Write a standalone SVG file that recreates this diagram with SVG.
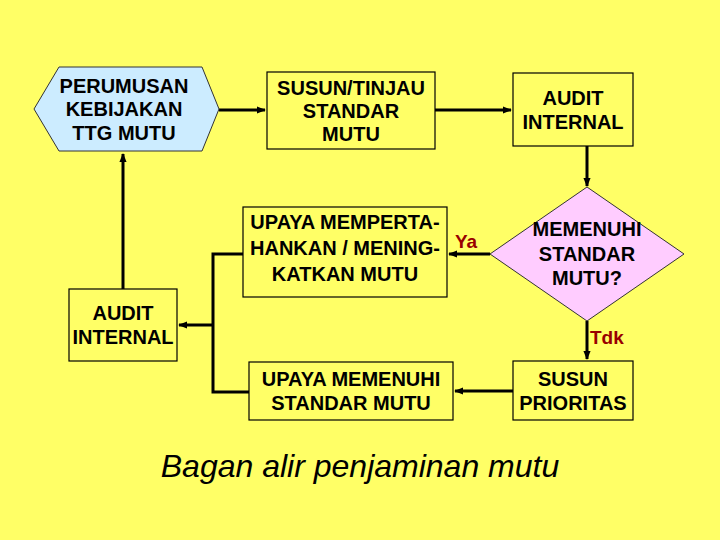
<svg xmlns="http://www.w3.org/2000/svg" width="720" height="540" viewBox="0 0 720 540">
<defs>
<marker id="ah" viewBox="0 0 10 10" refX="9" refY="5" markerWidth="3" markerHeight="3" orient="auto" markerUnits="strokeWidth">
<path d="M0,1 L10,5 L0,9 z" fill="#000"/>
</marker>
<style>
.box{fill:#FFFF66;stroke:#000;stroke-width:1.2}
.t{font-family:"Liberation Sans",Arial,sans-serif;font-weight:bold;font-size:20px;fill:#000;text-anchor:middle;dominant-baseline:central}
.c{fill:none;stroke:#000;stroke-width:3}
.lbl{font-family:"Liberation Sans",Arial,sans-serif;font-weight:bold;font-size:19px;fill:#990000}
</style>
</defs>
<rect x="0" y="0" width="720" height="540" fill="#FFFF66"/>
<g id="connectors">
<line class="c" x1="219" y1="110" x2="265" y2="110" marker-end="url(#ah)"/>
<line class="c" x1="435" y1="110" x2="511" y2="110" marker-end="url(#ah)"/>
<line class="c" x1="587" y1="146" x2="587" y2="186" marker-end="url(#ah)"/>
<line class="c" x1="490" y1="254" x2="449" y2="254" marker-end="url(#ah)"/>
<line class="c" x1="587" y1="321" x2="587" y2="359" marker-end="url(#ah)"/>
<line class="c" x1="513" y1="391" x2="455" y2="391" marker-end="url(#ah)"/>
<polyline class="c" points="243,254 213,254 213,392 249,392"/>
<line class="c" x1="213" y1="325" x2="179" y2="325" marker-end="url(#ah)"/>
<line class="c" x1="123" y1="289" x2="123" y2="154" marker-end="url(#ah)"/>
<text class="lbl" x="455" y="248">Ya</text>
<text class="lbl" x="590" y="344">Tdk</text>
</g>
<g id="perumusan">
<polygon points="34,109 59,67 202,67 219,109 202,151 59,151" fill="#CCECFF" stroke="#333" stroke-width="1"/>
<text class="t" x="124" y="86">PERUMUSAN</text>
<text class="t" x="124" y="109">KEBIJAKAN</text>
<text class="t" x="124" y="133">TTG MUTU</text>
</g>
<g id="susun-tinjau">
<rect class="box" x="267" y="72" width="168" height="77"/>
<text class="t" x="351" y="88">SUSUN/TINJAU</text>
<text class="t" x="351" y="111">STANDAR</text>
<text class="t" x="351" y="134">MUTU</text>
</g>
<g id="audit-internal-1">
<rect class="box" x="513" y="73" width="120" height="73"/>
<text class="t" x="573" y="98">AUDIT</text>
<text class="t" x="573" y="122">INTERNAL</text>
</g>
<g id="memenuhi">
<polygon points="587,187 684,254 587,321 490,254" fill="#FFCCFF" stroke="#333" stroke-width="1"/>
<text class="t" x="587" y="229">MEMENUHI</text>
<text class="t" x="587" y="254">STANDAR</text>
<text class="t" x="587" y="278">MUTU?</text>
</g>
<g id="upaya-mempertahankan">
<rect class="box" x="243" y="207" width="204" height="90"/>
<text class="t" x="345" y="222">UPAYA MEMPERTA-</text>
<text class="t" x="345" y="248">HANKAN / MENING-</text>
<text class="t" x="345" y="274">KATKAN MUTU</text>
</g>
<g id="audit-internal-2">
<rect class="box" x="69" y="289" width="108" height="72"/>
<text class="t" x="123" y="313">AUDIT</text>
<text class="t" x="123" y="337">INTERNAL</text>
</g>
<g id="upaya-memenuhi">
<rect class="box" x="249" y="362" width="204" height="58"/>
<text class="t" x="351" y="379">UPAYA MEMENUHI</text>
<text class="t" x="351" y="403">STANDAR MUTU</text>
</g>
<g id="susun-prioritas">
<rect class="box" x="513" y="361" width="120" height="59"/>
<text class="t" x="573" y="379">SUSUN</text>
<text class="t" x="573" y="403">PRIORITAS</text>
</g>
<text x="360" y="477" font-family="'Liberation Sans',Arial,sans-serif" font-style="italic" font-size="32" text-anchor="middle" fill="#000">Bagan alir penjaminan mutu</text>
</svg>
